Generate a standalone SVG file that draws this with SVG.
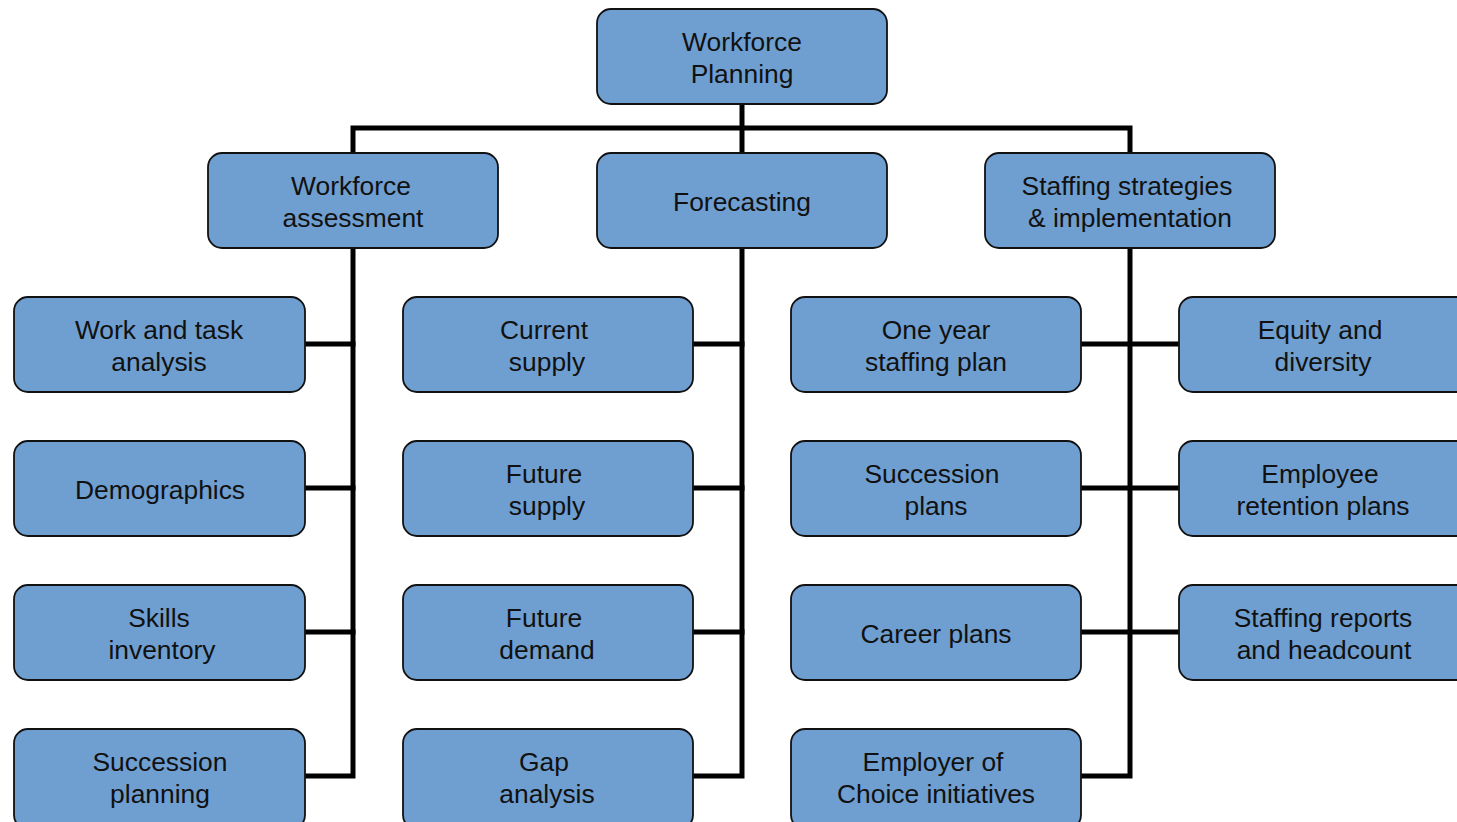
<svg xmlns="http://www.w3.org/2000/svg" width="1457" height="822" viewBox="0 0 1457 822">
  <style>
    .box { fill: #6f9fd0; stroke: #111; stroke-width: 1.8; }
    .lbl { font-family: "Liberation Sans", Arial, sans-serif; font-size: 26.4px; fill: #111; text-anchor: middle; }
    .wire { fill: none; stroke: #000; stroke-width: 5; stroke-linecap: square; }
  </style>
  <rect width="1457" height="822" fill="#fff"/>

  <!-- connectors -->
  <g id="connectors" class="wire">
    <path d="M742 104V153"/>
    <path d="M353 153V128H1130V153"/>
    <!-- workforce assessment branch -->
    <path d="M353 248V776H305"/>
    <path d="M305 344H353M305 488H353M305 632H353"/>
    <!-- forecasting branch -->
    <path d="M742 248V776H693"/>
    <path d="M693 344H742M693 488H742M693 632H742"/>
    <!-- staffing branch -->
    <path d="M1130 248V776H1081"/>
    <path d="M1081 344H1179M1081 488H1179M1081 632H1179"/>
  </g>

  <g transform="translate(0,1)">
  <!-- root -->
  <g id="workforce-planning">
    <rect class="box" x="597" y="8" width="290" height="95" rx="14"/>
    <text class="lbl" x="742" y="50">Workforce</text>
    <text class="lbl" x="742" y="82">Planning</text>
  </g>

  <!-- level 1 -->
  <g id="workforce-assessment">
    <rect class="box" x="208" y="152" width="290" height="95" rx="14"/>
    <text class="lbl" x="351" y="194">Workforce</text>
    <text class="lbl" x="353" y="226">assessment</text>
  </g>
  <g id="forecasting">
    <rect class="box" x="597" y="152" width="290" height="95" rx="14"/>
    <text class="lbl" x="742" y="210">Forecasting</text>
  </g>
  <g id="staffing-strategies">
    <rect class="box" x="985" y="152" width="290" height="95" rx="14"/>
    <text class="lbl" x="1127" y="194">Staffing strategies</text>
    <text class="lbl" x="1130" y="226">&amp; implementation</text>
  </g>

  <!-- column 1 -->
  <g id="work-task-analysis">
    <rect class="box" x="14" y="296" width="291" height="95" rx="14"/>
    <text class="lbl" x="159" y="338">Work and task</text>
    <text class="lbl" x="159" y="370">analysis</text>
  </g>
  <g id="demographics">
    <rect class="box" x="14" y="440" width="291" height="95" rx="14"/>
    <text class="lbl" x="160" y="498">Demographics</text>
  </g>
  <g id="skills-inventory">
    <rect class="box" x="14" y="584" width="291" height="95" rx="14"/>
    <text class="lbl" x="159" y="626">Skills</text>
    <text class="lbl" x="162" y="658">inventory</text>
  </g>
  <g id="succession-planning">
    <rect class="box" x="14" y="728" width="291" height="100" rx="14"/>
    <text class="lbl" x="160" y="770">Succession</text>
    <text class="lbl" x="160" y="802">planning</text>
  </g>

  <!-- column 2 -->
  <g id="current-supply">
    <rect class="box" x="403" y="296" width="290" height="95" rx="14"/>
    <text class="lbl" x="544" y="338">Current</text>
    <text class="lbl" x="547" y="370">supply</text>
  </g>
  <g id="future-supply">
    <rect class="box" x="403" y="440" width="290" height="95" rx="14"/>
    <text class="lbl" x="544" y="482">Future</text>
    <text class="lbl" x="547" y="514">supply</text>
  </g>
  <g id="future-demand">
    <rect class="box" x="403" y="584" width="290" height="95" rx="14"/>
    <text class="lbl" x="544" y="626">Future</text>
    <text class="lbl" x="547" y="658">demand</text>
  </g>
  <g id="gap-analysis">
    <rect class="box" x="403" y="728" width="290" height="100" rx="14"/>
    <text class="lbl" x="544" y="770">Gap</text>
    <text class="lbl" x="547" y="802">analysis</text>
  </g>

  <!-- column 3 -->
  <g id="one-year-plan">
    <rect class="box" x="791" y="296" width="290" height="95" rx="14"/>
    <text class="lbl" x="936" y="338">One year</text>
    <text class="lbl" x="936" y="370">staffing plan</text>
  </g>
  <g id="succession-plans">
    <rect class="box" x="791" y="440" width="290" height="95" rx="14"/>
    <text class="lbl" x="932" y="482">Succession</text>
    <text class="lbl" x="936" y="514">plans</text>
  </g>
  <g id="career-plans">
    <rect class="box" x="791" y="584" width="290" height="95" rx="14"/>
    <text class="lbl" x="936" y="642">Career plans</text>
  </g>
  <g id="employer-of-choice">
    <rect class="box" x="791" y="728" width="290" height="100" rx="14"/>
    <text class="lbl" x="933" y="770">Employer of</text>
    <text class="lbl" x="936" y="802">Choice initiatives</text>
  </g>

  <!-- column 4 -->
  <g id="equity-diversity">
    <rect class="box" x="1179" y="296" width="295" height="95" rx="14"/>
    <text class="lbl" x="1320" y="338">Equity and</text>
    <text class="lbl" x="1323" y="370">diversity</text>
  </g>
  <g id="retention-plans">
    <rect class="box" x="1179" y="440" width="295" height="95" rx="14"/>
    <text class="lbl" x="1320" y="482">Employee</text>
    <text class="lbl" x="1323" y="514">retention plans</text>
  </g>
  <g id="staffing-reports">
    <rect class="box" x="1179" y="584" width="295" height="95" rx="14"/>
    <text class="lbl" x="1323" y="626">Staffing reports</text>
    <text class="lbl" x="1324" y="658">and headcount</text>
  </g>
  </g>
</svg>
